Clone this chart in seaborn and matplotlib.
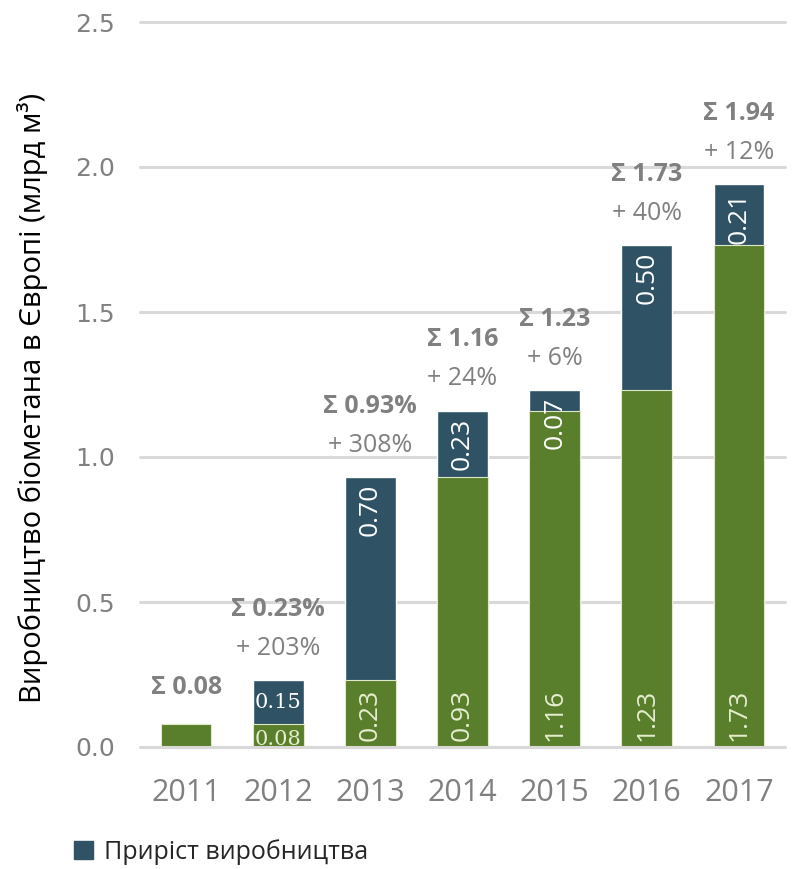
import matplotlib
matplotlib.use("Agg")
import matplotlib.pyplot as plt
from matplotlib.patches import Patch
import seaborn as sns
import pandas as pd

# Biomethane production in Europe, bcm
years = ["2011", "2012", "2013", "2014", "2015", "2016", "2017"]
base_values = [0.08, 0.08, 0.23, 0.93, 1.16, 1.23, 1.73]      # previous year's output
growth_values = [0.00, 0.15, 0.70, 0.23, 0.07, 0.50, 0.21]    # added this year
total_labels = ["Σ 0.08", "Σ 0.23%", "Σ 0.93%", "Σ 1.16", "Σ 1.23", "Σ 1.73", "Σ 1.94"]
growth_labels = ["", "+ 203%", "+ 308%", "+ 24%", "+ 6%", "+ 40%", "+ 12%"]
base_text = ["", "0.08", "0.23", "0.93", "1.16", "1.23", "1.73"]
growth_text = ["", "0.15", "0.70", "0.23", "0.07", "0.50", "0.21"]
y_ticks = [0.0, 0.5, 1.0, 1.5, 2.0, 2.5]

GREEN = "#5a7f2c"
BLUE = "#2f5364"
GREY = "#808080"
GRID = "#d9d9d9"

sns.set_theme(style="white")
plt.rcParams["font.family"] = ["Open Sans", "DejaVu Sans"]

df = pd.DataFrame({"year": years, "base": base_values, "growth": growth_values})
df["total"] = df["base"] + df["growth"]

fig = plt.figure(figsize=(7.92, 8.69), dpi=100)
ax = fig.add_axes([140 / 792, 122 / 869, 645 / 792, 725 / 869])

sns.barplot(data=df, x="year", y="total", color=BLUE, width=0.55,
            saturation=1, ax=ax, zorder=2)
sns.barplot(data=df, x="year", y="base", color=GREEN, width=0.55,
            saturation=1, ax=ax, zorder=3, edgecolor="#dfe8c8", linewidth=0.8)

ax.set_ylim(0, 2.5)
ax.set_xlim(-0.5, 6.5)
ax.set_yticks(y_ticks)
ax.set_yticklabels([f"{v:.1f}" for v in y_ticks], family="DejaVu Sans",
                   fontsize=18, color=GREY)
ax.tick_params(axis="y", length=0, pad=18)
ax.tick_params(axis="x", length=0, pad=22, labelsize=22, labelcolor=GREY)
ax.set_xlabel("")
ax.set_ylabel("")
for s in ax.spines.values():
    s.set_visible(False)
for v in y_ticks:
    ax.axhline(v, color=GRID, lw=2.2, zorder=1 if v > 0 else 5, clip_on=False)

# annotations above and inside each bar
for i, row in df.iterrows():
    total = row["total"]
    if growth_labels[i]:
        ax.annotate(growth_labels[i], (i, total), xytext=(0, 14),
                    textcoords="offset points", ha="center", va="bottom",
                    fontsize=18, color=GREY)
        offset = 42
    else:
        offset = 17
    ax.annotate(total_labels[i], (i, total), xytext=(0, offset),
                textcoords="offset points", ha="center", va="bottom",
                fontsize=18, fontweight="bold", color=GREY)

    if i == 1:
        ax.text(i, row["base"] + row["growth"] / 2, growth_text[i],
                ha="center", va="center", fontsize=15, family="DejaVu Serif",
                color="white", zorder=4)
        ax.text(i, 0.025, base_text[i], ha="center", va="center",
                fontsize=15, family="DejaVu Serif", color="#e6eecf",
                zorder=4, clip_on=True)
    elif i > 1:
        ax.annotate(growth_text[i], (i, total), xytext=(0, -5),
                    textcoords="offset points", rotation=90, ha="center",
                    va="top", fontsize=19, color="white", zorder=4)
        ax.annotate(base_text[i], (i, 0), xytext=(0, 4),
                    textcoords="offset points", rotation=90, ha="center",
                    va="bottom", fontsize=19, color="#e6eecf", zorder=4)

fig.text(33 / 792, 1 - 398 / 869, "Виробництво біометана в Європі (млрд м³)",
         rotation=90, ha="center", va="center", fontsize=21, color="black")

fig.legend(handles=[Patch(color=BLUE, label="Приріст виробництва")],
           loc="center left", bbox_to_anchor=(74 / 792, 1 - 852 / 869),
           frameon=False, fontsize=18, handlelength=0.75, handleheight=0.75,
           handletextpad=0.45, borderpad=0, borderaxespad=0)

fig.savefig("out.png", dpi=100)
